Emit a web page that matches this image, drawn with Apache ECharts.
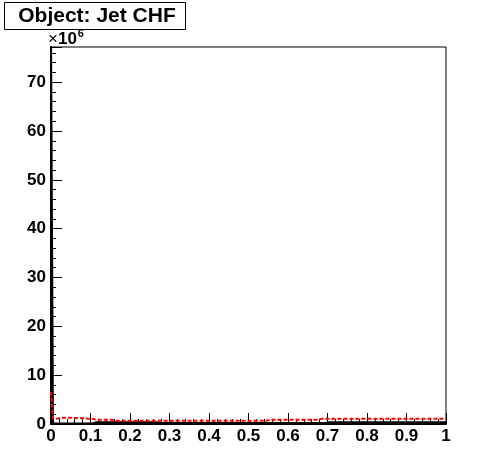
<!DOCTYPE html>
<html>
<head>
<meta charset="utf-8">
<script src="https://cdn.jsdelivr.net/npm/echarts@6/dist/echarts.min.js"></script>
<style>html,body{margin:0;padding:0;background:#fff}#c{width:496px;height:472px}</style>
</head>
<body>
<div id="c"></div>
<script>
// Histogram: 200 bins of width 0.005 on [0,1]; values in units of 1e6
var binWidth = 0.005;
var xTicks = [0, 0.1, 0.2, 0.3, 0.4, 0.5, 0.6, 0.7, 0.8, 0.9, 1];
var yTicks = [0, 10, 20, 30, 40, 50, 60, 70];
var yMax = 77.2;
var redCounts = [
  6.6,1.1,1.1,1.1,1.3,1.3,1.3,1.3,1.3,1.3,
  1.25,1.25,1.25,1.25,1.2,1.2,1.2,1.2,1.05,1.05,
  1.05,1.05,0.88,0.88,0.88,0.88,0.88,0.88,0.88,0.88,
  0.88,0.68,0.68,0.68,0.68,0.68,0.68,0.68,0.68,0.68,
  0.68,0.68,0.68,0.68,0.68,0.68,0.68,0.68,0.68,0.68,
  0.68,0.68,0.68,0.68,0.68,0.68,0.68,0.68,0.68,0.68,
  0.68,0.68,0.68,0.68,0.68,0.68,0.68,0.68,0.68,0.68,
  0.68,0.68,0.68,0.68,0.68,0.68,0.68,0.68,0.68,0.68,
  0.68,0.68,0.68,0.68,0.68,0.68,0.68,0.68,0.68,0.68,
  0.68,0.68,0.68,0.68,0.68,0.68,0.68,0.68,0.68,0.68,
  0.68,0.68,0.68,0.68,0.68,0.68,0.68,0.68,0.68,0.68,
  0.88,0.88,0.88,0.88,0.88,0.88,0.88,0.88,0.88,0.88,
  0.88,0.88,0.88,0.88,0.88,0.88,0.88,0.88,0.88,0.88,
  0.88,0.88,0.88,0.88,0.88,1.05,1.05,1.05,1.05,1.05,
  1.05,1.05,1.05,1.05,1.05,1.05,1.05,1.05,1.05,1.05,
  1.05,1.05,1.05,1.05,1.05,1.05,1.05,1.05,1.05,1.05,
  1.05,1.05,1.05,1.05,1.05,1.05,1.05,1.05,1.05,1.05,
  1.05,1.05,1.05,1.05,1.05,1.05,1.05,1.05,1.05,1.05,
  1.05,1.05,1.05,1.05,1.05,1.05,1.05,1.05,1.05,1.05,
  1.05,1.05,1.05,1.05,1.05,1.05,1.05,1.05,1.05,1.05
];
var blackCounts = [
  80,0.1,0.1,0.1,0.1,0.1,0.1,0.1,0.1,0.1,
  0.1,0.1,0.1,0.1,0.1,0.1,0.1,0.1,0.1,0.1,
  0.1,0.35,0.35,0.35,0.35,0.35,0.35,0.35,0.35,0.35,
  0.35,0.35,0.35,0.35,0.35,0.35,0.35,0.35,0.35,0.35,
  0.35,0.35,0.35,0.35,0.35,0.35,0.35,0.35,0.35,0.35,
  0.35,0.35,0.35,0.2,0.2,0.2,0.2,0.2,0.2,0.2,
  0.2,0.2,0.2,0.2,0.2,0.2,0.2,0.2,0.2,0.2,
  0.2,0.2,0.2,0.2,0.2,0.2,0.2,0.2,0.2,0.2,
  0.2,0.2,0.2,0.2,0.2,0.2,0.2,0.2,0.2,0.2,
  0.2,0.2,0.2,0.2,0.2,0.2,0.2,0.2,0.2,0.2,
  0.2,0.2,0.2,0.2,0.2,0.2,0.2,0.2,0.2,0.2,
  0.2,0.2,0.2,0.2,0.2,0.2,0.2,0.2,0.2,0.2,
  0.2,0.2,0.2,0.2,0.2,0.2,0.2,0.2,0.2,0.2,
  0.2,0.2,0.2,0.2,0.2,0.2,0.2,0.2,0.2,0.2,
  0.35,0.35,0.35,0.35,0.35,0.35,0.35,0.35,0.35,0.35,
  0.35,0.35,0.35,0.35,0.35,0.35,0.35,0.35,0.35,0.35,
  0.35,0.35,0.35,0.35,0.35,0.35,0.35,0.35,0.35,0.35,
  0.35,0.35,0.35,0.35,0.35,0.35,0.35,0.35,0.35,0.35,
  0.35,0.35,0.35,0.35,0.35,0.35,0.35,0.35,0.35,0.35,
  0.35,0.35,0.35,0.35,0.35,0.35,0.35,0.35,0.35,0.35
];
var titleText = 'Object: Jet CHF';

function toSteps(counts) {
  var pts = [];
  for (var i = 0; i < counts.length; i++) {
    pts.push([+(i * binWidth).toFixed(4), counts[i]]);
  }
  pts.push([+(counts.length * binWidth).toFixed(4), counts[counts.length - 1]]);
  return pts;
}

var font = '"Liberation Sans", Arial, Helvetica, sans-serif';
var chart = echarts.init(document.getElementById('c'), null, {renderer: 'canvas'});
chart.setOption({
  animation: false,
  backgroundColor: '#fff',
  grid: {left: 51, right: 50, top: 47, bottom: 48, show: true, borderColor: '#000', borderWidth: 1, backgroundColor: '#fff'},
  xAxis: {
    type: 'value', min: xTicks[0], max: xTicks[xTicks.length - 1], interval: 0.1,
    axisLine: {show: true, onZero: false, lineStyle: {color: '#000', width: 2}},
    axisTick: {show: true, inside: true, length: 11, lineStyle: {color: '#000', width: 1}},
    minorTick: {show: true, splitNumber: 5, length: 5, lineStyle: {color: '#000', width: 1}},
    splitLine: {show: false},
    axisLabel: {color: '#000', fontFamily: font, fontWeight: 'bold', fontSize: 17, margin: 4,
      formatter: function (v) { return String(+v.toFixed(1)); }}
  },
  yAxis: {
    type: 'value', min: 0, max: yMax, interval: 10,
    axisLine: {show: true, onZero: false, lineStyle: {color: '#000', width: 2}},
    axisTick: {show: true, inside: true, length: 11, lineStyle: {color: '#000', width: 1}},
    minorTick: {show: true, splitNumber: 5, length: 5, lineStyle: {color: '#000', width: 1}},
    splitLine: {show: false},
    axisLabel: {color: '#000', fontFamily: font, fontWeight: 'bold', fontSize: 17, margin: 5,
      formatter: function (v) { return yTicks.indexOf(v) >= 0 ? String(v) : ''; }}
  },
  series: [
    {type: 'line', step: 'end', symbol: 'none', clip: true, data: toSteps(blackCounts),
      lineStyle: {color: '#000', width: 2}, z: 2},
    {type: 'line', step: 'end', symbol: 'none', clip: true, data: toSteps(redCounts),
      lineStyle: {color: '#ff0000', width: 2, type: [4, 2]}, z: 3}
  ],
  graphic: [
    {type: 'rect', shape: {x: 4.5, y: 2.5, width: 181, height: 27}, style: {fill: '#fff', stroke: '#000', lineWidth: 1}},
    {type: 'text', x: 97, y: 16, style: {text: titleText, font: 'bold 21px ' + font, fill: '#000', align: 'center', verticalAlign: 'middle'}},
    {type: 'text', x: 48, y: 48, style: {
      text: '{a|\u00d7}{b|10}{c|6}', verticalAlign: 'bottom', align: 'left',
      rich: {
        a: {fontFamily: font, fontSize: 17, fill: '#000', verticalAlign: 'bottom'},
        b: {fontFamily: font, fontWeight: 'bold', fontSize: 17, fill: '#000', verticalAlign: 'bottom'},
        c: {fontFamily: font, fontWeight: 'bold', fontSize: 11, fill: '#000', verticalAlign: 'top', padding: [0,0,9,1]}
      }
    }}
  ]
});
</script>
</body>
</html>
